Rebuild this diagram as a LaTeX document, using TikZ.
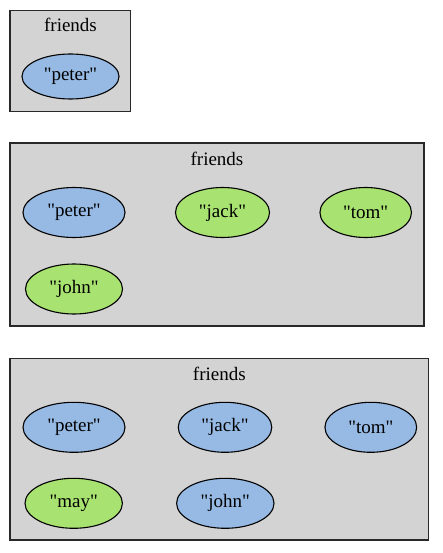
\documentclass[tikz,border=0pt]{standalone}
\usetikzlibrary{shapes.geometric}
\font\nodefont="Liberation Serif" at 19pt
\definecolor{boxgray}{RGB}{211,211,211}
\definecolor{nblue}{RGB}{150,186,228}
\definecolor{ngreen}{RGB}{168,226,112}
\definecolor{edge}{RGB}{40,40,40}
\tikzset{
  cluster/.style={draw=edge, fill=boxgray, line width=1.4pt, rectangle, inner sep=0pt},
  title/.style={font=\nodefont, inner sep=0pt},
  person/.style={ellipse, draw=black, line width=1.1pt, inner sep=0pt, font=\nodefont},
  blue/.style={person, fill=nblue},
  green/.style={person, fill=ngreen},
}
\begin{document}
\begin{tikzpicture}[x=1pt,y=-1pt]
\useasboundingbox (0,0) rectangle (442,553);
% cluster 1
\node[cluster, minimum width=120.5pt, minimum height=100.5pt] (c1) at (70.25,61) {};
\node[title] (t1) at (70.5,25) {friends};
\node[blue, minimum width=97pt, minimum height=45pt] (p1) at (70.5,76.5) {"peter"};
% cluster 2
\node[cluster, minimum width=414pt, minimum height=183pt] (c2) at (217,234.5) {};
\node[title] (t2) at (217,159) {friends};
\node[blue, minimum width=102pt, minimum height=50pt] (p2) at (74,212.5) {"peter"};
\node[green, minimum width=94pt, minimum height=50pt] (j2) at (222.5,212.5) {"jack"};
\node[green, minimum width=91.5pt, minimum height=50pt] (tm2) at (365.7,212.5) {"tom"};
\node[green, minimum width=97pt, minimum height=50pt] (jn2) at (74,289) {"john"};
% cluster 3
\node[cluster, minimum width=418.3pt, minimum height=181.7pt] (c3) at (219.2,449.2) {};
\node[title] (t3) at (219.3,374) {friends};
\node[blue, minimum width=102pt, minimum height=50pt] (p3) at (74,427.3) {"peter"};
\node[blue, minimum width=93.5pt, minimum height=50pt] (j3) at (225,427.3) {"jack"};
\node[blue, minimum width=91.7pt, minimum height=50pt] (tm3) at (370.8,427.3) {"tom"};
\node[green, minimum width=97.4pt, minimum height=50pt] (m3) at (73.7,503.3) {"may"};
\node[blue, minimum width=97.4pt, minimum height=50pt] (jn3) at (225.3,503.3) {"john"};
\end{tikzpicture}
\end{document}
